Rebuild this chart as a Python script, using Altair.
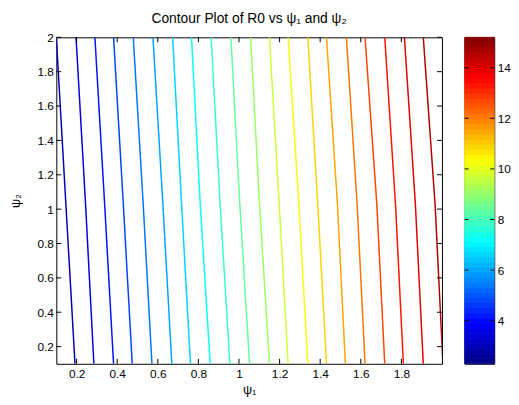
import altair as alt
import numpy as np
import pandas as pd

# contour levels (R0 values) of the 20 drawn contour lines
levels = [2.91, 3.52, 4.14, 4.75, 5.36, 5.98, 6.59, 7.21, 7.82, 8.43,
          9.05, 9.66, 10.27, 10.89, 11.50, 12.11, 12.73, 13.34, 13.96, 14.57]
# psi2 rows at which each contour line's psi1 position was read
psi2_rows = [2.0, 1.03, 0.1]
psi1_top = [0.100, 0.197, 0.290, 0.382, 0.479, 0.576, 0.673, 0.766, 0.863, 0.960,
            1.057, 1.150, 1.242, 1.339, 1.431, 1.529, 1.621, 1.718, 1.815, 1.908]
psi1_mid = [0.147, 0.244, 0.338, 0.430, 0.528, 0.625, 0.717, 0.809, 0.907, 1.004,
            1.101, 1.198, 1.295, 1.388, 1.485, 1.582, 1.679, 1.771, 1.869, 1.966]
psi1_bot = [0.192, 0.285, 0.382, 0.474, 0.571, 0.669, 0.761, 0.858, 0.955, 1.052,
            1.150, 1.242, 1.339, 1.431, 1.524, 1.621, 1.718, 1.810, 1.908, 2.005]

x_ticks = [0.2, 0.4, 0.6, 0.8, 1.0, 1.2, 1.4, 1.6, 1.8]
y_ticks = [0.2, 0.4, 0.6, 0.8, 1.0, 1.2, 1.4, 1.6, 1.8, 2.0]
cbar_ticks = [4, 6, 8, 10, 12, 14]
cmin, cmax = 2.3, 15.2
jet = ["#000080", "#0000ff", "#0080ff", "#00ffff", "#80ff80",
       "#ffff00", "#ff8000", "#ff0000", "#800000"]

FONT = "Liberation Sans"
W, H = 391, 331
TL = 5  # tick length

rows = []
for i, lv in enumerate(levels):
    for k, (p2, p1) in enumerate(zip(psi2_rows, (psi1_top[i], psi1_mid[i], psi1_bot[i]))):
        rows.append({"level": lv, "psi1": p1, "psi2": p2, "k": k})
lines_df = pd.DataFrame(rows)

cscale = alt.Scale(domain=list(np.linspace(cmin, cmax, len(jet))), range=jet, interpolate="rgb")
xscale = alt.Scale(domain=[0.1, 2.0], nice=False, zero=False)
yscale = alt.Scale(domain=[0.1, 2.0], nice=False, zero=False)
xaxis = alt.Axis(values=x_ticks, format="~g", ticks=False, domain=False, grid=False,
                 labelPadding=5, title="ψ₁", titlePadding=4)
yaxis = alt.Axis(values=y_ticks, format="~g", ticks=False, domain=False, grid=False,
                 labelPadding=3, title="ψ₂", titlePadding=15)

X = alt.X("psi1:Q", scale=xscale, axis=xaxis)
Y = alt.Y("psi2:Q", scale=yscale, axis=yaxis)

lines = alt.Chart(lines_df).mark_line(clip=True, strokeWidth=1.5).encode(
    x=X, y=Y,
    color=alt.Color("level:Q", scale=cscale, legend=None),
    detail="level:N",
    order="k:Q",
)

xt_df = pd.DataFrame({"psi1": x_ticks})
yt_df = pd.DataFrame({"psi2": y_ticks})
t_bottom = alt.Chart(xt_df).mark_rule(color="black", strokeWidth=1).encode(
    x=X, y=alt.value(H), y2=alt.value(H - TL))
t_top = alt.Chart(xt_df).mark_rule(color="black", strokeWidth=1).encode(
    x=X, y=alt.value(0), y2=alt.value(TL))
t_left = alt.Chart(yt_df).mark_rule(color="black", strokeWidth=1).encode(
    y=Y, x=alt.value(0), x2=alt.value(TL))
t_right = alt.Chart(yt_df).mark_rule(color="black", strokeWidth=1).encode(
    y=Y, x=alt.value(W), x2=alt.value(W - TL))

main = alt.layer(lines, t_bottom, t_top, t_left, t_right).properties(
    width=W, height=H,
    title=alt.TitleParams("Contour Plot of R0 vs ψ₁ and ψ₂", fontSize=14, font=FONT,
                          fontWeight="normal", color="black", offset=6, anchor="middle"),
)

# colorbar
edges = np.linspace(cmin, cmax, 65)
cb_df = pd.DataFrame({"lo": edges[:-1], "hi": edges[1:], "mid": (edges[:-1] + edges[1:]) / 2})
cyscale = alt.Scale(domain=[cmin, cmax], nice=False, zero=False)
cyaxis = alt.Axis(orient="right", values=cbar_ticks, ticks=False, domain=False, grid=False,
                  labelPadding=3, title=None)
CY = alt.Y("lo:Q", scale=cyscale, axis=cyaxis)
CBW = 30
cbar = alt.Chart(cb_df).mark_rect(strokeWidth=0.8).encode(
    y=CY, y2="hi:Q", x=alt.value(0), x2=alt.value(CBW),
    color=alt.Color("mid:Q", scale=cscale, legend=None),
    stroke=alt.Stroke("mid:Q", scale=cscale, legend=None),
)
ct_df = pd.DataFrame({"lo": cbar_ticks})
cb_l = alt.Chart(ct_df).mark_rule(color="black").encode(y=CY, x=alt.value(0), x2=alt.value(4))
cb_r = alt.Chart(ct_df).mark_rule(color="black").encode(y=CY, x=alt.value(CBW - 4), x2=alt.value(CBW))
colorbar = alt.layer(cbar, cb_l, cb_r).properties(width=CBW, height=H)

chart = alt.hconcat(main, colorbar, spacing=23, bounds="flush").resolve_scale(
    x="independent", y="independent", color="shared", stroke="shared"
).properties(
    padding={"left": 0, "top": 0, "right": 0, "bottom": 0},
    background="white",
).configure_view(
    stroke="black", strokeWidth=1
).configure_axis(
    labelFont=FONT, labelFontSize=12, labelColor="black",
    titleFont=FONT, titleFontSize=13, titleColor="black", titleFontWeight="normal",
)

chart.save("out.html", embed_options={"renderer": "svg", "actions": False})
